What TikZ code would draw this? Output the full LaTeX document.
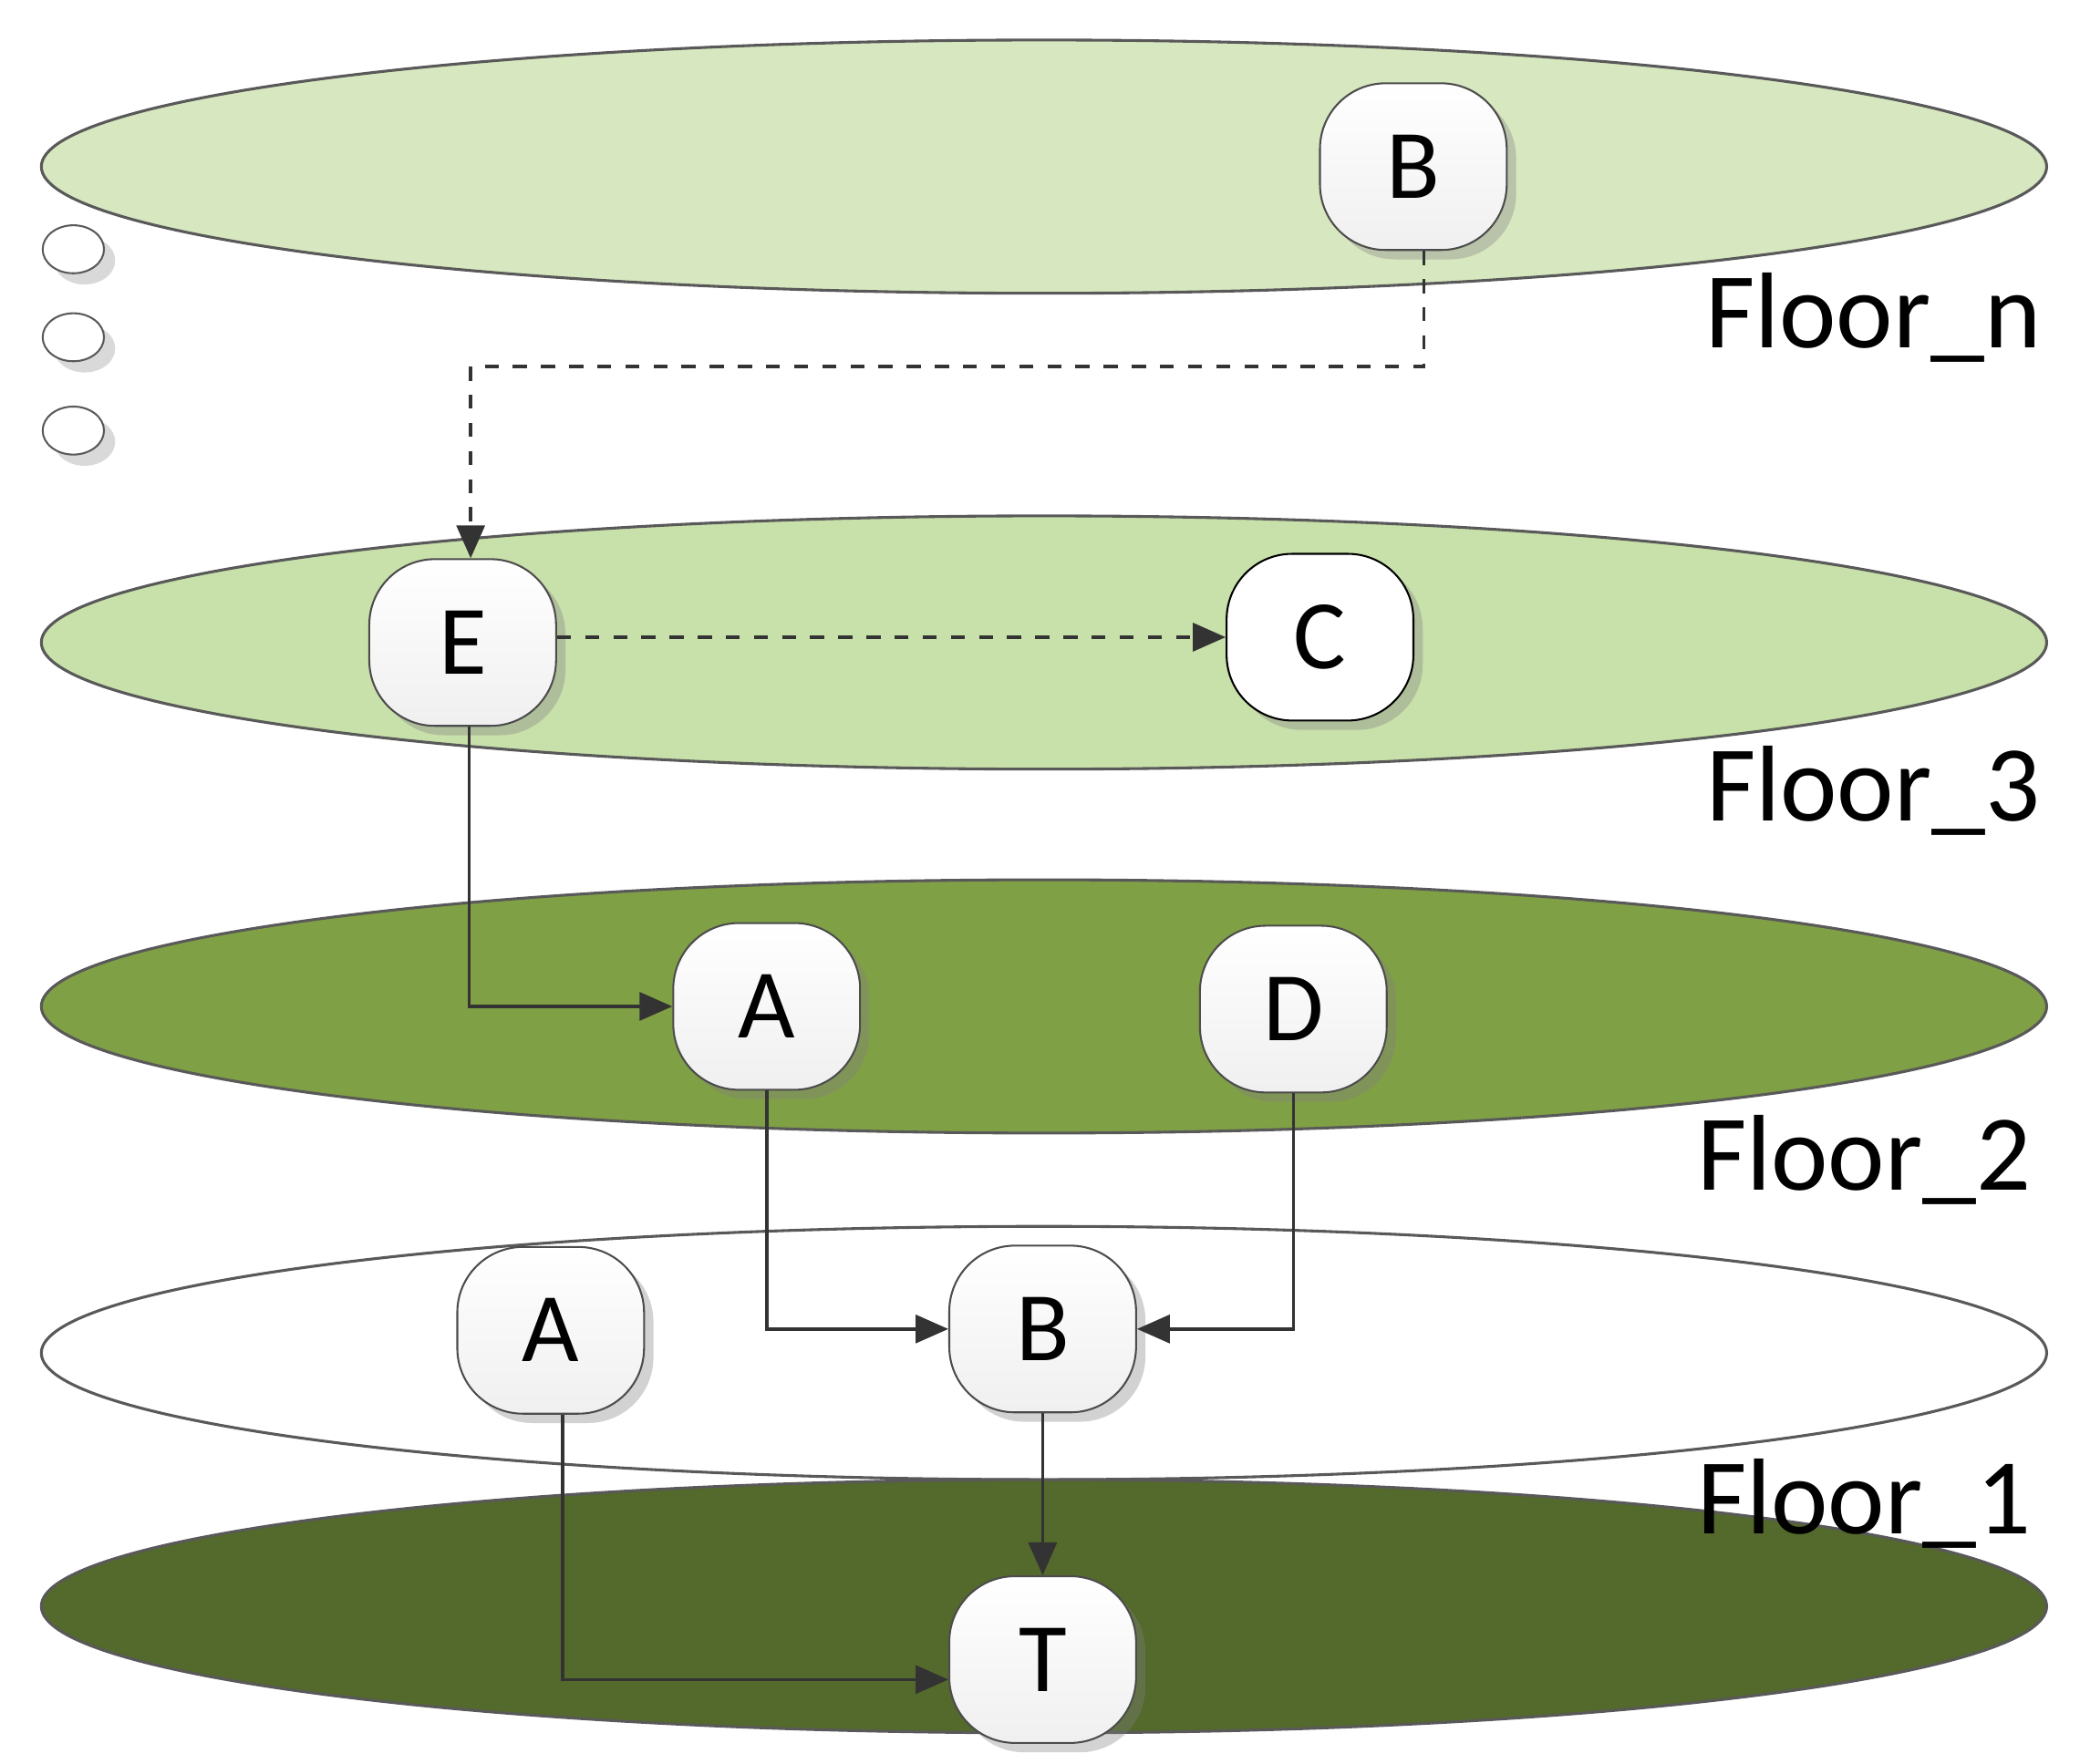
\documentclass[tikz,border=0pt]{standalone}
\usepackage{fontspec}
\setmainfont{Carlito}
\usetikzlibrary{arrows.meta,shadows}
\begin{document}
\begin{tikzpicture}[x=0.01cm,y=-0.01cm,
 floor/.style={draw=gray!70!black,line width=0.6pt},
 box/.style={draw=gray!60!black,rounded corners=14pt,minimum width=1.4cm,minimum height=1.25cm,
   top color=white,bottom color=gray!12,font=\fontsize{21}{24}\selectfont,drop shadow={opacity=0.35,shadow xshift=2pt,shadow yshift=-2pt}},
 lab/.style={font=\fontsize{23}{26}\selectfont},
 con/.style={draw=gray!40!black,line width=0.7pt,-{Triangle[length=7pt,width=6pt]}},
 dcon/.style={con,dashed}]
\useasboundingbox (0,0) rectangle (1560,1323);
\draw[floor,fill=green!25!olive!25] (783,125) ellipse [x radius=752,y radius=95];
\draw[floor,fill=olive!45!green!30!white] (783,482) ellipse [x radius=752,y radius=95];
\draw[floor,fill={rgb,255:red,128;green,160;blue,70}] (783,755) ellipse [x radius=752,y radius=95];
\draw[floor,fill=white] (783,1015) ellipse [x radius=752,y radius=95];
\draw[floor,fill={rgb,255:red,84;green,105;blue,44}] (783,1205) ellipse [x radius=752,y radius=95];
\foreach \y in {187,253,323} \draw[gray!70!black,fill=white,drop shadow={opacity=0.3}] (55,\y) ellipse [x radius=23,y radius=18];
\node[box] (Bn) at (1060,125) {B};
\node[box] (E) at (347,482) {E};
\node[box,top color=white,bottom color=white,draw=black] (C) at (990,478) {C};
\node[box] (A2) at (575,755) {A};
\node[box] (D) at (970,757) {D};
\node[box] (A1) at (413,998) {A};
\node[box] (B1) at (782,997) {B};
\node[box] (T) at (782,1245) {T};
\node[lab] (Ln) at (1405,238) {Floor\_n};
\node[lab] (L3) at (1405,593) {Floor\_3};
\node[lab] (L2) at (1398,870) {Floor\_2};
\node[lab] (L1) at (1398,1128) {Floor\_1};
\coordinate (p1) at (1068,275);
\coordinate (p2) at (353,275);
\draw[dcon] (Bn.south -| p1) -- (p1) -- (p2) -- (E.north -| p2);
\draw[dcon] (E.east |- C) -- (C.west);
\draw[con] (E.south -| 352,0) |- (A2.west);
\draw[con] (A2.south) |- (B1.west);
\draw[con] (D.south) |- (B1.east);
\draw[con] (A1.south -| 422,0) |- (T.west |- 0,1260);
\draw[con] (B1.south) -- (T.north);
\end{tikzpicture}
\end{document}
